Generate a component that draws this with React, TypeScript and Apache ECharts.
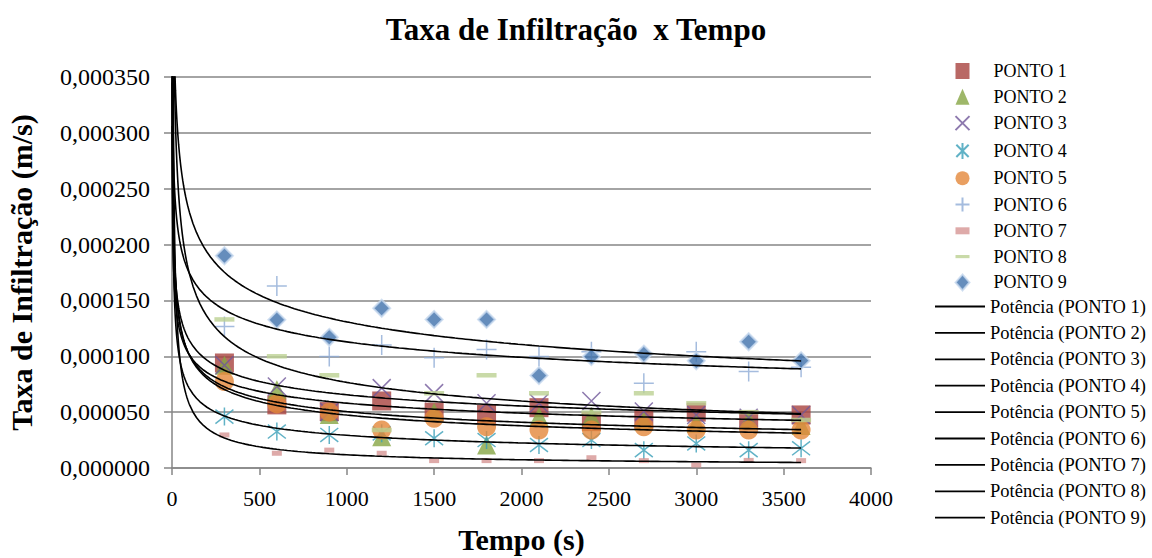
import React, { useEffect, useRef } from "react";
import * as echarts from "echarts";

const tempo = [300, 600, 900, 1200, 1500, 1800, 2100, 2400, 2700, 3000, 3300, 3600];

const ponto1 = [0.000094, 0.0000565, 0.0000505, 0.00006, 0.00005, 0.000048, 0.000054, 0.0000415, 0.0000436, 0.00005, 0.000043, 0.0000475];
const ponto2 = [0.000092, 0.00007, 0.000048, 0.000028, 0.00005, 0.0000206, 0.000046, 0.000046, 0.000042, 0.00004, 0.000043, 0.000038];
const ponto3 = [0.000092, 0.000073, 0.00005, 0.0000715, 0.000067, 0.000058, 0.000058, 0.00006, 0.0000505, 0.0000475, 0.000045, 0.0000475];
const ponto4 = [0.000046, 0.0000326, 0.0000296, 0.000031, 0.0000266, 0.000025, 0.0000206, 0.000025, 0.000016, 0.000022, 0.000016, 0.0000176];
const ponto5 = [0.0000774, 0.0000574, 0.00005, 0.000034, 0.0000445, 0.000037, 0.000034, 0.000034, 0.000037, 0.000034, 0.000034, 0.000034];
const ponto6 = [0.0001266, 0.000163, 0.0000997, 0.00011, 0.0000988, 0.000106, 0.0000997, 0.000104, 0.0000759, 0.000104, 0.0000863, 0.0000902];
const ponto7 = [0.0000296, 0.0000132, 0.000016, 0.0000132, 0.0000066, 0.0000066, 0.0000066, 0.0000092, 0.0000066, 0.0000027, 0.0000068, 0.0000066];
const ponto8 = [0.000133, 0.0001, 0.000083, 0.000034, 0.0000669, 0.000083, 0.0000669, 0.0000496, 0.0000669, 0.000058, 0.00005, 0.000043];
const ponto9 = [0.00019, 0.0001326, 0.000117, 0.000143, 0.000133, 0.000133, 0.0000827, 0.0000997, 0.000102, 0.0000959, 0.000113, 0.0000961];

const pontoNames = ["PONTO 1", "PONTO 2", "PONTO 3", "PONTO 4", "PONTO 5", "PONTO 6", "PONTO 7", "PONTO 8", "PONTO 9"];
const trendNames = pontoNames.map((n) => `Potência (${n})`);
const yTickMax = 0.00035;
const yTickStep = 0.00005;
const xTickMax = 4000;
const xTickStep = 500;

const seriesValues = [ponto1, ponto2, ponto3, ponto4, ponto5, ponto6, ponto7, ponto8, ponto9];

// Least-squares power fit (spreadsheet "Potência" trendline): y = a * x^b
function powerFit(xs: number[], ys: number[]) {
  const n = xs.length;
  let sx = 0, sy = 0, sxy = 0, sxx = 0;
  for (let i = 0; i < n; i++) {
    const lx = Math.log(xs[i]);
    const ly = Math.log(ys[i]);
    sx += lx; sy += ly; sxy += lx * ly; sxx += lx * lx;
  }
  const b = (n * sxy - sx * sy) / (n * sxx - sx * sx);
  const a = Math.exp((sy - b * sx) / n);
  return { a, b };
}

// sampling positions for drawing the fitted curves
function curveXs(): number[] {
  const out: number[] = [];
  for (let x = 1; x < 10; x += 0.5) out.push(x);
  for (let x = 10; x < 100; x += 2) out.push(x);
  for (let x = 100; x <= 3600; x += 20) out.push(x);
  return out;
}

const markerStyles: any[] = [
  { symbol: "rect", symbolSize: 19, itemStyle: { color: "#a8423f" } },
  { symbol: "triangle", symbolSize: 19, itemStyle: { color: "#86a544" } },
  { symbol: "path://M0,0L10,10M10,0L0,10", symbolSize: 18, itemStyle: { color: "none", borderColor: "#71579a", borderWidth: 1.5 } },
  { symbol: "path://M0,0L10,10M10,0L0,10M5,-1.5L5,11.5", symbolSize: 18, itemStyle: { color: "none", borderColor: "#3a9fb8", borderWidth: 1.5 } },
  { symbol: "circle", symbolSize: 19, itemStyle: { color: "#e4873a" } },
  { symbol: "path://M0,10L20,10M10,0L10,20", symbolSize: 20, itemStyle: { color: "none", borderColor: "#8eabd6", borderWidth: 1.5 } },
  { symbol: "path://M0,0h10v5h-10z", symbolSize: [10, 5], itemStyle: { color: "#d69593" } },
  { symbol: "path://M0,0h20v4.5h-20z", symbolSize: [20, 4.5], itemStyle: { color: "#bcd192" } },
  { symbol: "diamond", symbolSize: 17, itemStyle: { color: "#3f70ab", borderColor: "#c8d9ef", borderWidth: 2 } },
];

const serif = "'Liberation Serif', 'Times New Roman', serif";

export default function App() {
  const ref = useRef<HTMLDivElement>(null);
  useEffect(() => {
    if (!ref.current) return;
    const chart = echarts.init(ref.current, undefined, { renderer: "svg" });
    const xsCurve = curveXs();

    const scatterSeries = seriesValues.map((vals, i) => ({
      type: "scatter",
      name: pontoNames[i],
      data: tempo.map((t, j) => [t, vals[j]]),
      symbol: markerStyles[i].symbol,
      symbolSize: markerStyles[i].symbolSize,
      itemStyle: markerStyles[i].itemStyle,
      z: 2,
    }));

    const trendSeries = seriesValues.map((vals, i) => {
      const { a, b } = powerFit(tempo, vals);
      return {
        type: "line",
        name: trendNames[i],
        data: xsCurve.map((x) => [x, a * Math.pow(x, b)]),
        symbol: "none",
        showSymbol: false,
        clip: true,
        lineStyle: { color: "#000", width: 1.6 },
        itemStyle: { color: "#000" },
        z: 3,
      };
    });

    chart.setOption({
      animation: false,
      backgroundColor: "#fff",
      textStyle: { fontFamily: serif },
      title: {
        text: "Taxa de Infiltração  x Tempo",
        left: "center",
        top: 9,
        textStyle: { fontFamily: serif, fontSize: 31, fontWeight: "bold", color: "#000" },
      },
      grid: { left: 172, right: 281, top: 77, bottom: 90, containLabel: false, outerBoundsMode: "none" },
      xAxis: {
        type: "value",
        min: 0,
        max: xTickMax,
        interval: xTickStep,
        name: "Tempo (s)",
        nameLocation: "middle",
        nameGap: 56,
        nameTextStyle: { fontFamily: serif, fontSize: 30, fontWeight: "bold", color: "#000" },
        axisLine: { show: true, lineStyle: { color: "#868686", width: 1.5 } },
        axisTick: { show: true, length: 7, lineStyle: { color: "#868686", width: 1.5 } },
        axisLabel: { color: "#000", fontSize: 22, fontFamily: serif, margin: 19, formatter: (v: number) => String(v) },
        splitLine: { show: false },
      },
      yAxis: {
        type: "value",
        min: 0,
        max: yTickMax,
        interval: yTickStep,
        name: "Taxa de Infiltração (m/s)",
        nameLocation: "middle",
        nameGap: 136,
        nameTextStyle: { fontFamily: serif, fontSize: 30, fontWeight: "bold", color: "#000" },
        axisLine: { show: true, lineStyle: { color: "#868686", width: 1.5 } },
        axisTick: { show: true, length: 8, lineStyle: { color: "#868686", width: 1.5 } },
        axisLabel: {
          color: "#000",
          fontSize: 24,
          fontFamily: serif,
          margin: 22,
          formatter: (v: number) => v.toFixed(6).replace(".", ","),
        },
        splitLine: { show: true, lineStyle: { color: "#868686", width: 1.5 } },
      },
      legend: [
        {
          orient: "vertical",
          left: 948,
          top: 57,
          itemWidth: 14,
          itemHeight: 16,
          itemGap: 7.8,
          data: pontoNames,
          textStyle: { fontFamily: serif, fontSize: 18, lineHeight: 16, color: "#000", padding: [0, 0, 0, 19] },
        },
        {
          orient: "vertical",
          left: 930,
          top: 292,
          itemWidth: 50,
          itemHeight: 16,
          itemGap: 7.4,
          data: trendNames.map((n) => ({ name: n, icon: "path://M0,0h50v1.8h-50z" })),
          textStyle: { fontFamily: serif, fontSize: 18.5, lineHeight: 16, color: "#000" },
        },
      ],
      series: [...scatterSeries, ...trendSeries],
    });
    return () => chart.dispose();
  }, []);
  return (
    <div
      ref={ref}
      style={{ position: "fixed", left: 0, top: 0, width: 1152, height: 558, background: "#fff" }}
    />
  );
}
